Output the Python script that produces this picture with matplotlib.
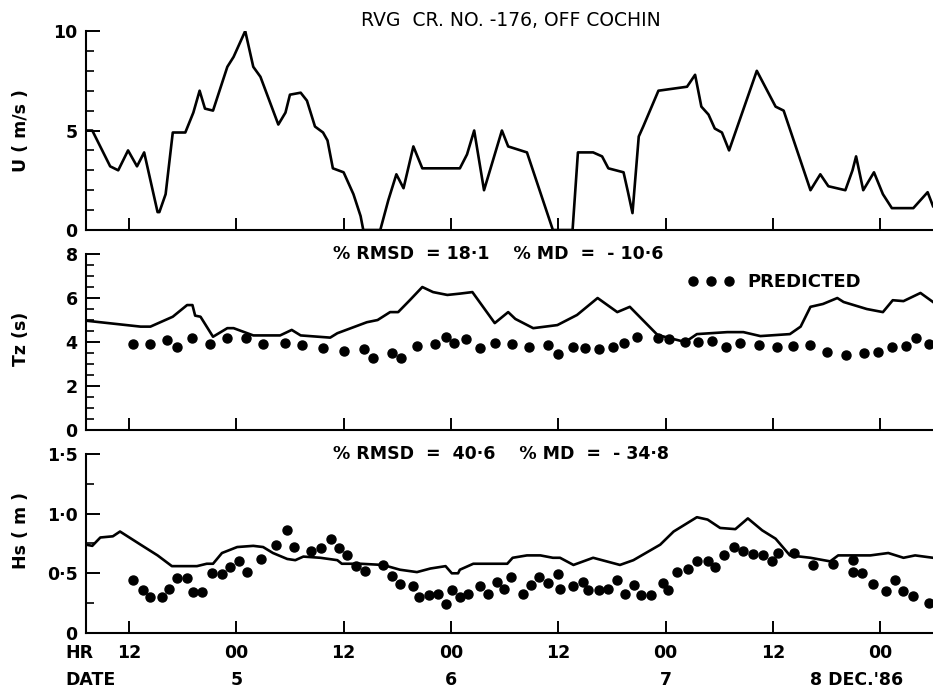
import matplotlib
matplotlib.use('Agg')
import matplotlib.pyplot as plt
from matplotlib.lines import Line2D
from matplotlib.ticker import MultipleLocator

# hours counted from 00 h, 4 Dec 1986
wind_hr = [7.2, 7.9, 9.9, 10.8, 11.9, 12.9, 13.7, 15.2, 15.4, 16.1,
           16.9, 18.3, 19.2, 19.9, 20.5, 21.4, 23.0, 23.7, 25.0, 25.9,
           26.7, 28.7, 29.5, 30.0, 31.2, 31.9, 32.8, 33.7, 34.2, 34.8,
           36.0, 37.1, 37.9, 38.2, 40.1, 41.0, 41.9, 42.7, 43.8, 44.8,
           49.0, 49.8, 50.6, 51.7, 53.7, 54.4, 56.5, 59.4, 61.6, 62.2,
           63.9, 64.9, 65.6, 67.3, 67.8, 68.3, 69.0, 69.5, 71.2, 74.4,
           75.3, 76.0, 76.8, 77.5, 78.3, 79.1, 82.2, 84.3, 85.2, 88.2,
           89.3, 90.2, 92.1, 92.9, 93.3, 94.1, 95.3, 96.3, 97.3, 99.7,
           101.3, 101.9]
wind_u = [5.0, 5.0, 3.2, 3.0, 4.0, 3.2, 3.9, 0.9, 0.9, 1.8,
          4.9, 4.9, 5.9, 7.0, 6.1, 6.0, 8.2, 8.7, 10.0, 8.2,
          7.7, 5.3, 5.9, 6.8, 6.9, 6.5, 5.2, 4.9, 4.5, 3.1,
          2.9, 1.8, 0.7, 0.0, 0.0, 1.5, 2.8, 2.1, 4.2, 3.1,
          3.1, 3.8, 5.0, 2.0, 5.0, 4.2, 3.9, 0.0, 0.0, 3.9,
          3.9, 3.7, 3.1, 2.9, 1.9, 0.85, 4.7, 5.2, 7.0, 7.2,
          7.8, 6.2, 5.8, 5.1, 4.9, 4.0, 8.0, 6.2, 6.0, 2.0,
          2.8, 2.2, 2.0, 3.0, 3.7, 2.0, 2.9, 1.8, 1.1, 1.1,
          1.9, 1.2]

tz_obs_hr = [7.2, 13.3, 14.4, 16.9, 18.5, 19.1, 19.4, 20.0, 21.4, 23.0,
             23.7, 25.9, 28.9, 30.2, 31.2, 34.5, 35.3, 38.6, 39.8, 41.2,
             42.1, 43.4, 44.8, 46.0, 47.6, 49.0, 50.4, 52.9, 54.4, 55.2,
             57.2, 59.9, 62.1, 64.4, 66.6, 68.0, 71.1, 74.2, 75.5, 78.9,
             80.7, 82.6, 85.9, 87.1, 88.2, 89.6, 91.2, 91.9, 94.5, 96.3,
             97.4, 98.6, 100.5, 101.9]
tz_obs = [4.97, 4.7, 4.7, 5.15, 5.68, 5.68, 5.2, 5.15, 4.24, 4.63,
          4.63, 4.3, 4.3, 4.55, 4.3, 4.2, 4.4, 4.9, 5.0, 5.36,
          5.36, 5.9, 6.5, 6.27, 6.14, 6.2, 6.27, 4.86, 5.36, 5.05,
          4.63, 4.77, 5.23, 6.0, 5.36, 5.6, 4.32, 4.0, 4.36, 4.45,
          4.45, 4.27, 4.36, 4.7, 5.6, 5.73, 6.0, 5.82, 5.5, 5.36,
          5.9, 5.86, 6.23, 5.82]

tz_pred_hr = [12.5, 14.4, 16.3, 17.4, 19.0, 21.1, 23.0, 25.1, 27.0, 29.4,
              31.4, 33.7, 36.0, 38.3, 39.3, 41.4, 42.4, 44.2, 46.2, 47.4,
              48.3, 49.7, 51.2, 52.9, 54.8, 56.7, 58.8, 60.0, 61.7, 63.0,
              64.5, 66.1, 67.3, 68.8, 71.1, 72.4, 74.2, 75.6, 77.2, 78.8,
              80.3, 82.4, 84.5, 86.3, 88.2, 90.1, 92.2, 94.2, 95.8, 97.3,
              98.9, 100.0, 101.4]
tz_pred = [3.9, 3.9, 4.1, 3.77, 4.18, 3.9, 4.18, 4.18, 3.9, 3.95,
           3.86, 3.73, 3.6, 3.68, 3.27, 3.5, 3.27, 3.82, 3.9, 4.23,
           3.95, 4.14, 3.73, 3.95, 3.9, 3.77, 3.86, 3.45, 3.77, 3.73,
           3.68, 3.77, 3.95, 4.23, 4.18, 4.14, 4.0, 4.0, 4.05, 3.77,
           3.95, 3.86, 3.77, 3.82, 3.86, 3.55, 3.41, 3.5, 3.55, 3.77,
           3.82, 4.18, 3.9]

hs_obs_hr = [7.2, 7.9, 8.8, 10.2, 11.0, 13.3, 15.2, 16.8, 19.6, 20.7,
             21.4, 22.4, 24.1, 25.9, 27.0, 28.1, 29.7, 30.6, 31.5, 33.4,
             35.3, 35.8, 37.9, 40.4, 42.3, 44.2, 45.7, 47.4, 48.1, 48.8,
             49.0, 50.5, 52.7, 54.3, 54.9, 56.5, 58.0, 59.4, 60.2, 61.7,
             63.9, 66.9, 68.4, 71.4, 72.9, 75.5, 76.7, 78.1, 79.8, 81.2,
             82.8, 84.3, 85.9, 88.2, 90.4, 91.3, 94.9, 96.9, 98.6, 99.9,
             101.9]
hs_obs = [0.74, 0.73, 0.8, 0.81, 0.85, 0.74, 0.65, 0.56, 0.56, 0.58,
          0.58, 0.67, 0.72, 0.73, 0.72, 0.67, 0.62, 0.61, 0.64, 0.63,
          0.61, 0.58, 0.58, 0.57, 0.53, 0.51, 0.54, 0.56, 0.5, 0.5,
          0.53, 0.58, 0.58, 0.58, 0.63, 0.65, 0.65, 0.63, 0.63, 0.57,
          0.63, 0.57, 0.61, 0.74, 0.85, 0.97, 0.95, 0.88, 0.87, 0.96,
          0.86, 0.79, 0.65, 0.63, 0.6, 0.65, 0.65, 0.67, 0.63, 0.65,
          0.63]

hs_pred_hr = [12.5, 13.6, 14.4, 15.7, 16.5, 17.4, 18.5, 19.2, 20.2, 21.3,
              22.4, 23.3, 24.3, 25.2, 26.8, 28.4, 29.7, 30.5, 32.4, 33.5,
              34.6, 35.5, 36.4, 37.4, 38.4, 40.4, 41.4, 42.3, 43.8, 44.4,
              45.5, 46.6, 47.4, 48.1, 49.0, 49.9, 51.3, 52.1, 53.1, 53.9,
              54.7, 56.1, 56.9, 57.8, 58.8, 60.0, 60.2, 61.6, 62.8, 63.3,
              64.5, 65.6, 66.6, 67.5, 68.5, 69.3, 70.4, 71.7, 72.3, 73.3,
              74.5, 75.5, 76.7, 77.5, 78.5, 79.6, 80.7, 81.8, 82.9, 83.9,
              84.6, 86.4, 88.5, 90.7, 92.9, 93.0, 94.0, 95.2, 96.7, 97.6,
              98.6, 99.7, 101.5]
hs_pred = [0.44, 0.36, 0.30, 0.30, 0.37, 0.46, 0.46, 0.34, 0.34, 0.50,
           0.49, 0.55, 0.60, 0.51, 0.62, 0.74, 0.86, 0.72, 0.69, 0.71,
           0.79, 0.71, 0.65, 0.56, 0.52, 0.57, 0.48, 0.41, 0.39, 0.30,
           0.32, 0.33, 0.24, 0.36, 0.30, 0.33, 0.39, 0.33, 0.43, 0.37,
           0.47, 0.33, 0.40, 0.47, 0.42, 0.49, 0.37, 0.39, 0.43, 0.36,
           0.36, 0.37, 0.44, 0.33, 0.40, 0.32, 0.32, 0.42, 0.36, 0.51,
           0.54, 0.60, 0.60, 0.55, 0.65, 0.72, 0.69, 0.66, 0.65, 0.60,
           0.67, 0.67, 0.57, 0.58, 0.61, 0.51, 0.50, 0.41, 0.35, 0.44,
           0.35, 0.31, 0.25]

hr_ticks = [12, 24, 36, 48, 60, 72, 84, 96]
hr_labels = ['12', '00', '12', '00', '12', '00', '12', '00']
date_pos = [24, 48, 72]
date_labels = ['5', '6', '7']
last_date = "8 DEC.'86"

title = 'RVG  CR. NO. -176, OFF COCHIN'
tz_stats = '% RMSD  = 18·1    % MD  =  - 10·6'
hs_stats = '% RMSD  =  40·6    % MD  =  - 34·8'

plt.rcParams['font.family'] = ['DejaVu Sans']
fig = plt.figure(figsize=(9.33, 6.92), dpi=100)

xlim = (7.2, 101.9)
lw = 1.9
ms = 6.5
bold = dict(fontsize=12.5, fontweight='bold')


def style(ax, ymax, ticks, labels, minor):
    ax.set_xlim(*xlim)
    ax.set_ylim(0, ymax)
    for s in ['top', 'right']:
        ax.spines[s].set_visible(False)
    for s in ['left', 'bottom']:
        ax.spines[s].set_linewidth(1.5)
    ax.set_xticks(hr_ticks)
    ax.tick_params(axis='x', direction='in', length=9, width=1.4, labelbottom=False)
    ax.yaxis.set_minor_locator(MultipleLocator(minor))
    ax.set_yticks(ticks, labels, **bold)
    ax.tick_params(axis='y', which='major', direction='in', length=10, width=1.4, pad=6)
    ax.tick_params(axis='y', which='minor', direction='in', length=6, width=1.2)


# wind speed
ax1 = fig.add_axes([0.0922, 0.6676, 0.9078, 0.2876])
ax1.plot(wind_hr, wind_u, color='black', lw=lw, solid_joinstyle='round')
style(ax1, 10, [0, 5, 10], ['0', '5', '10'], 1)
ax1.set_ylabel('U ( m/s )', **bold)
ax1.yaxis.set_label_coords(-0.066, 0.5)
fig.text(0.548, 0.970, title, ha='center', va='center', fontsize=13.5)

# zero-crossing wave period
ax2 = fig.add_axes([0.0922, 0.3786, 0.9078, 0.2543])
ax2.plot(tz_obs_hr, tz_obs, color='black', lw=lw)
ax2.plot(tz_pred_hr, tz_pred, 'o', color='black', ms=ms, ls='none')
style(ax2, 8, [0, 2, 4, 6, 8], ['0', '2', '4', '6', '8'], 0.5)
ax2.set_ylabel('Tz (s)', **bold)
ax2.yaxis.set_label_coords(-0.066, 0.52)
ax2.text(0.487, 1.0, tz_stats, transform=ax2.transAxes, ha='center', va='center',
         fontsize=12.5, fontweight='bold')
h = Line2D([], [], marker='o', color='black', ls='none', ms=ms)
ax2.legend([h], ['PREDICTED'], numpoints=3, frameon=False, loc='center left',
           bbox_to_anchor=(0.71, 0.84), borderpad=0, borderaxespad=0,
           handlelength=2.6, handletextpad=0.7,
           prop=dict(size=13, weight='bold'))

# significant wave height
ax3 = fig.add_axes([0.0922, 0.0853, 0.9078, 0.2587])
ax3.plot(hs_obs_hr, hs_obs, color='black', lw=lw)
ax3.plot(hs_pred_hr, hs_pred, 'o', color='black', ms=ms, ls='none')
style(ax3, 1.5, [0, 0.5, 1.0, 1.5], ['0', '0·5', '1·0', '1·5'], 0.25)
ax3.set_ylabel('Hs ( m )', **bold)
ax3.yaxis.set_label_coords(-0.066, 0.57)
ax3.text(0.49, 1.0, hs_stats, transform=ax3.transAxes, ha='center', va='center',
         fontsize=12.5, fontweight='bold')
ax3.tick_params(axis='x', labelbottom=True, pad=8)
ax3.set_xticklabels(hr_labels, **bold)
for x, lab in zip(date_pos, date_labels):
    ax3.annotate(lab, xy=(x, 0), xycoords=('data', 'axes fraction'),
                 xytext=(0, -34), textcoords='offset points',
                 ha='center', va='center', **bold)
ax3.annotate(last_date, xy=(96, 0), xycoords=('data', 'axes fraction'),
             xytext=(-17, -34), textcoords='offset points',
             ha='center', va='center', **bold)
fig.text(0.070, 0.0565, 'HR', ha='left', va='center', **bold)
fig.text(0.070, 0.0170, 'DATE', ha='left', va='center', **bold)

fig.savefig('out.png', dpi=100)
